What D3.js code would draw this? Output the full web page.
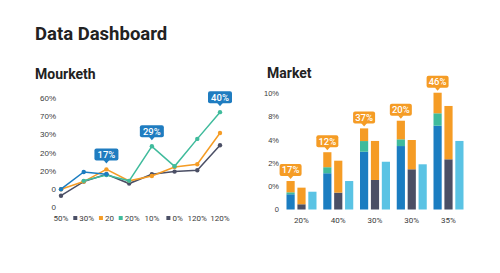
<!DOCTYPE html>
<html>
<head>
<meta charset="utf-8">
<script src="https://cdn.jsdelivr.net/npm/d3@7"></script>
<style>
  body { margin: 0; background: #fff; }
  svg { display: block; font-family: Roboto, "Noto Sans", sans-serif; }
  .tick text { fill: #3a3a3a; }
</style>
</head>
<body>
<script>
const width = 500;
const height = 273;

// line chart data
const lineLabels = ["50%", "30%", "20", "20%", "10%", "0%", "120%", "120%"];
const lineLabelKeys = [null, "gray", "orange", "teal", null, "gray", null, null];
const lineTicks = [0, 10, 20, 30, 40, 50, 60];
const lineTickLabels = ["0", "0", "20%", "20%", "30%", "70%", "60%"];
const grayValues = [6.2, 14.0, 18.0, 12.9, 18.0, 19.5, 20.2, 34.0];
const orangeValues = [9.8, 14.0, 20.7, 14.4, 17.1, 22.0, 23.5, 40.7];
const tealValues = [null, 14.4, 17.6, 14.4, 33.4, 22.4, 37.5, 52.2];
const blueValues = [9.8, 19.3, 18.0];
const lineCallouts = [[2, "17%"], [4, "29%"], [7, "40%"]];

// bar chart data
const barGroups = ["20%", "40%", "30%", "30%", "35%"];
const barTicks = [0, 2, 4, 6, 8, 10];
const barTickLabels = ["0", "0%", "2%", "4%", "8%", "10%"];
const barBlue = [1.31, 3.12, 4.97, 5.46, 7.21];
const barTeal = [0.17, 0.52, 0.92, 0.58, 1.07];
const barOrangeA = [0.97, 1.29, 1.09, 1.60, 1.77];
const barGray = [0.45, 1.45, 2.54, 3.46, 4.32];
const barOrangeB = [1.43, 2.75, 3.36, 2.52, 4.59];
const barLight = [1.53, 2.45, 4.11, 3.89, 5.90];
const bubbleLabels = ["17%", "12%", "37%", "20%", "46%"];

const colors = {
    blue: "#1b7dc1",
    teal: "#3fbb9c",
    orange: "#f59c25",
    gray: "#4b4f65",
    light: "#5ac3e4",
    callout: "#1f7cc0"
};

const svg = d3.select("body")
    .append("svg")
    .attr("width", width)
    .attr("height", height);

svg.append("text")
    .attr("x", 35)
    .attr("y", 40)
    .attr("font-size", 18.5)
    .attr("font-weight", 700)
    .attr("fill", "#222")
    .text("Data Dashboard");

svg.append("text")
    .attr("x", 35)
    .attr("y", 79)
    .attr("font-size", 14)
    .attr("font-weight", 700)
    .attr("fill", "#222")
    .text("Mourketh");

svg.append("text")
    .attr("x", 267)
    .attr("y", 78)
    .attr("font-size", 14)
    .attr("font-weight", 700)
    .attr("fill", "#222")
    .text("Market");

// ---------- line chart ----------
const xLine = d3.scalePoint()
    .domain(d3.range(lineLabels.length))
    .range([61, 220]);

const yLine = d3.scaleLinear()
    .domain([0, 60])
    .range([207, 98]);

const yAxisL = svg.append("g")
    .attr("transform", "translate(56,0)")
    .call(d3.axisLeft(yLine)
        .tickValues(lineTicks)
        .tickFormat((d, i) => lineTickLabels[i])
        .tickSize(0)
        .tickPadding(0));
yAxisL.select(".domain").remove();
yAxisL.selectAll("text").attr("font-size", 8);

const xLab = svg.append("g")
    .selectAll("g")
    .data(lineLabels)
    .enter()
    .append("g")
    .attr("transform", (d, i) => "translate(" + xLine(i) + ",221)");

xLab.each(function(d, i) {
    const g = d3.select(this);
    const key = lineLabelKeys[i];
    const t = g.append("text")
        .attr("font-size", 8)
        .attr("fill", "#3a3a3a")
        .text(d);
    const w = t.node().getComputedTextLength();
    const full = key ? w + 6 : w;
    t.attr("x", -full / 2 + (key ? 6 : 0));
    if (key) {
        g.append("rect")
            .attr("x", -full / 2)
            .attr("y", -5)
            .attr("width", 4)
            .attr("height", 4)
            .attr("fill", colors[key]);
    }
});

const lineSeries = [
    { key: "gray", values: grayValues },
    { key: "orange", values: orangeValues },
    { key: "teal", values: tealValues },
    { key: "blue", values: blueValues }
];

const line = d3.line()
    .defined(d => d != null)
    .x((d, i) => xLine(i))
    .y(d => yLine(d));

lineSeries.forEach(s => {
    svg.append("path")
        .datum(s.values)
        .attr("fill", "none")
        .attr("stroke", colors[s.key])
        .attr("stroke-width", 1.5)
        .attr("d", line);

    svg.append("g")
        .selectAll("circle")
        .data(s.values.map((v, i) => [i, v]).filter(d => d[1] != null))
        .enter()
        .append("circle")
        .attr("cx", d => xLine(d[0]))
        .attr("cy", d => yLine(d[1]))
        .attr("r", 2.2)
        .attr("fill", colors[s.key]);
});

function callout(cx, tipY, label, fill, w, h) {
    const g = svg.append("g");
    const top = tipY - 3 - h;
    g.append("rect")
        .attr("x", cx - w / 2)
        .attr("y", top)
        .attr("width", w)
        .attr("height", h)
        .attr("rx", 2)
        .attr("fill", fill);
    g.append("path")
        .attr("d", "M" + (cx - 3) + "," + (tipY - 3.5) + "L" + cx + "," + tipY + "L" + (cx + 3) + "," + (tipY - 3.5) + "Z")
        .attr("fill", fill);
    g.append("text")
        .attr("x", cx)
        .attr("y", top + h / 2)
        .attr("dy", "0.36em")
        .attr("text-anchor", "middle")
        .attr("font-size", 9.5)
        .attr("font-weight", 500)
        .attr("fill", "#fff")
        .text(label);
}

lineCallouts.forEach(c => {
    const i = c[0];
    const top = d3.max(lineSeries, s => s.values[i]);
    callout(xLine(i), yLine(top) - 6, c[1], colors.callout, 24, 12);
});

// ---------- bar chart ----------
const xGroup = d3.scalePoint()
    .domain(d3.range(barGroups.length))
    .range([301.5, 448.5]);

const xSub = d3.scaleBand()
    .domain([0, 1, 2])
    .range([-15, 15])
    .paddingInner(0.25);

const yBar = d3.scaleLinear()
    .domain([0, 10])
    .range([209.5, 93.3]);

const yAxisR = svg.append("g")
    .attr("transform", "translate(279,0)")
    .call(d3.axisLeft(yBar)
        .tickValues(barTicks)
        .tickFormat((d, i) => barTickLabels[i])
        .tickSize(0)
        .tickPadding(0));
yAxisR.select(".domain").remove();
yAxisR.selectAll("text").attr("font-size", 7.5);

svg.append("g")
    .selectAll("text")
    .data(barGroups)
    .enter()
    .append("text")
    .attr("x", (d, i) => xGroup(i))
    .attr("y", 223)
    .attr("text-anchor", "middle")
    .attr("font-size", 8)
    .attr("fill", "#3a3a3a")
    .text(d => d);

const rows = barGroups.map((g, i) => ({
    i: i,
    blue: barBlue[i],
    teal: barTeal[i],
    orangeA: barOrangeA[i],
    gray: barGray[i],
    orangeB: barOrangeB[i],
    light: barLight[i]
}));

const stackA = d3.stack().keys(["blue", "teal", "orangeA"])(rows);
const stackB = d3.stack().keys(["gray", "orangeB"])(rows);
const stackC = d3.stack().keys(["light"])(rows);
const fillFor = { blue: colors.blue, teal: colors.teal, orangeA: colors.orange, gray: colors.gray, orangeB: colors.orange, light: colors.light };

[stackA, stackB, stackC].forEach((stack, sub) => {
    stack.forEach(layer => {
        svg.append("g")
            .attr("fill", fillFor[layer.key])
            .selectAll("rect")
            .data(layer)
            .enter()
            .append("rect")
            .attr("x", d => xGroup(d.data.i) + xSub(sub))
            .attr("y", d => yBar(d[1]))
            .attr("width", xSub.bandwidth())
            .attr("height", d => yBar(d[0]) - yBar(d[1]));
    });
});

rows.forEach((r, i) => {
    const total = r.blue + r.teal + r.orangeA;
    const cx = xGroup(i) + xSub(0) + xSub.bandwidth() / 2;
    callout(cx, yBar(total) - 2, bubbleLabels[i], colors.orange, 22, 12);
});
</script>
</body>
</html>
